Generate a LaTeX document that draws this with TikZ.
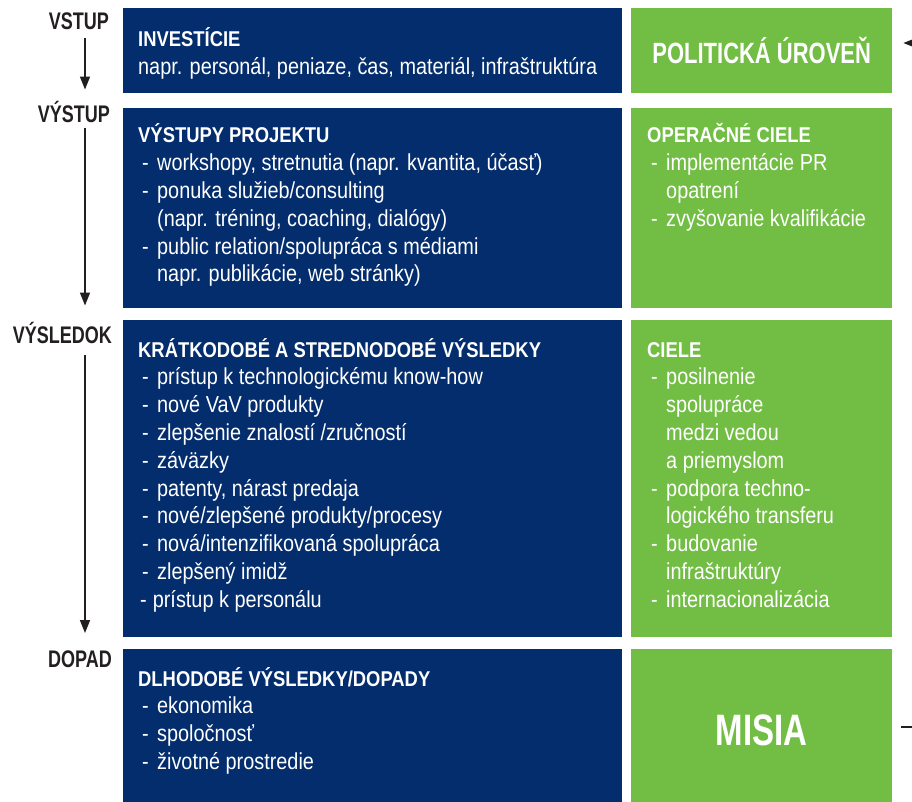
\documentclass[tikz,border=0pt]{standalone}
\usepackage{fontspec}
\setmainfont[FakeStretch=0.86]{Liberation Sans}
\newfontfamily\condfont[FakeStretch=0.75]{Liberation Sans}
\usepackage{xcolor}
\definecolor{logblue}{RGB}{4,45,110}
\definecolor{loggreen}{RGB}{114,190,68}
\definecolor{logink}{RGB}{35,31,32}
\usepackage{tikz}
\usetikzlibrary{
  arrows.meta,
  positioning
}

\newenvironment{boxlist}{\begin{tabular}[t]{@{\hspace{4pt}}p{15pt}@{}l@{}}}{\end{tabular}}
\newcommand{\headrow}[1]{\multicolumn{2}{@{}l@{}}{\fontsize{21.4}{27.8}\selectfont\bfseries #1}}
\newcommand{\fullrow}[1]{\multicolumn{2}{@{}l@{}}{#1}}

\tikzset{
  bluebox/.style={fill=logblue, draw=none, anchor=north west, inner sep=0pt, minimum width=499pt},
  greenbox/.style={fill=loggreen, draw=none, anchor=north west, inner sep=0pt, minimum width=261pt},
  boxtext/.style={text=white, anchor=base west, inner sep=0pt, font=\fontsize{23.1}{27.8}\selectfont},
  stage/.style={text=logink, anchor=base east, inner sep=0pt, font=\condfont\bfseries\fontsize{24}{28}\selectfont},
  bighead/.style={text=white, inner sep=0pt, font=\condfont\bfseries\fontsize{29.3}{36}\selectfont},
  flow/.style={draw=logink, line width=1.5pt, -{Triangle[width=10pt,length=13pt]}}
}

\begin{document}
\begin{tikzpicture}[x=1pt, y=-1pt]
  \useasboundingbox (0,0) rectangle (912,802);

  % Blue column
  \node[bluebox, minimum height=85pt] (inv) at (123,8) {};
  \node[bluebox, minimum height=200pt] (vys) at (123,108) {};
  \node[bluebox, minimum height=317pt] (vsl) at (123,320) {};
  \node[bluebox, minimum height=162pt] (dop) at (123,649) {};

  % Green column
  \node[greenbox, minimum height=85pt] (pol) at (631,8) {};
  \node[greenbox, minimum height=200pt] (ope) at (631,108) {};
  \node[greenbox, minimum height=317pt] (cie) at (631,320) {};
  \node[greenbox, minimum height=162pt] (mis) at (631,649) {};

  % Blue texts
  \node[boxtext] (invtxt) at (138,47) {\begin{boxlist}
    \headrow{INVESTÍCIE}\\
    \fullrow{napr. personál, peniaze, čas, materiál, infraštruktúra}\\
  \end{boxlist}};
  \node[boxtext] (vystxt) at (138,143) {\begin{boxlist}
    \headrow{VÝSTUPY PROJEKTU}\\
    - & workshopy, stretnutia (napr. kvantita, účasť)\\
    - & ponuka služieb/consulting\\
      & (napr. tréning, coaching, dialógy)\\
    - & public relation/spolupráca s médiami\\
      & napr. publikácie, web stránky)\\
  \end{boxlist}};
  \node[boxtext] (vsltxt) at (138,357) {\begin{boxlist}
    \headrow{KRÁTKODOBÉ A STREDNODOBÉ VÝSLEDKY}\\
    - & prístup k technologickému know-how\\
    - & nové VaV produkty\\
    - & zlepšenie znalostí /zručností\\
    - & záväzky\\
    - & patenty, nárast predaja\\
    - & nové/zlepšené produkty/procesy\\
    - & nová/intenzifikovaná spolupráca\\
    - & zlepšený imidž\\
    \fullrow{\hspace{2pt}-\hspace{6pt}prístup k personálu}\\
  \end{boxlist}};
  \node[boxtext] (doptxt) at (138,686) {\begin{boxlist}
    \headrow{DLHODOBÉ VÝSLEDKY/DOPADY}\\
    - & ekonomika\\
    - & spoločnosť\\
    - & životné prostredie\\
  \end{boxlist}};

  % Green texts
  \node[bighead] (poltxt) at (pol.center) {POLITICKÁ ÚROVEŇ};
  \node[boxtext] (opetxt) at (647,143) {\begin{boxlist}
    \headrow{OPERAČNÉ CIELE}\\
    - & implementácie PR\\
      & opatrení\\
    - & zvyšovanie kvalifikácie\\
  \end{boxlist}};
  \node[boxtext] (cietxt) at (647,357) {\begin{boxlist}
    \headrow{CIELE}\\
    - & posilnenie\\
      & spolupráce\\
      & medzi vedou\\
      & a priemyslom\\
    - & podpora techno-\\
      & logického transferu\\
    - & budovanie\\
      & infraštruktúry\\
    - & internacionalizácia\\
  \end{boxlist}};
  \node[bighead, font=\condfont\bfseries\fontsize{44}{50}\selectfont] (mistxt) at (mis.center) {MISIA};

  % Stages on the left
  \coordinate (spine) at (85,0);
  \node[stage] (lvstup) at (109,30) {VSTUP};
  \node[stage] (lvystup) at (110,123) {VÝSTUP};
  \node[stage] (lvysledok) at (112,343) {VÝSLEDOK};
  \node[stage] (ldopad) at (112,667) {DOPAD};

  \draw[flow, shorten <=8pt, shorten >=12pt] (lvstup.south -| spine) -- (lvystup.north -| spine);
  \draw[flow, shorten <=5pt, shorten >=16pt] (lvystup.south -| spine) -- (lvysledok.north -| spine);
  \draw[flow, shorten <=12pt, shorten >=17pt] (lvysledok.south -| spine) -- (ldopad.north -| spine);

  % Arrows at the right edge
  \coordinate (polfeed) at (935,43);
  \coordinate (misfeed) at (940,727);
  \draw[flow, shorten >=11pt] (polfeed) -- (pol.east |- polfeed);
  \draw[flow, shorten <=9pt] (mis.east |- misfeed) -- (misfeed);
\end{tikzpicture}
\end{document}
